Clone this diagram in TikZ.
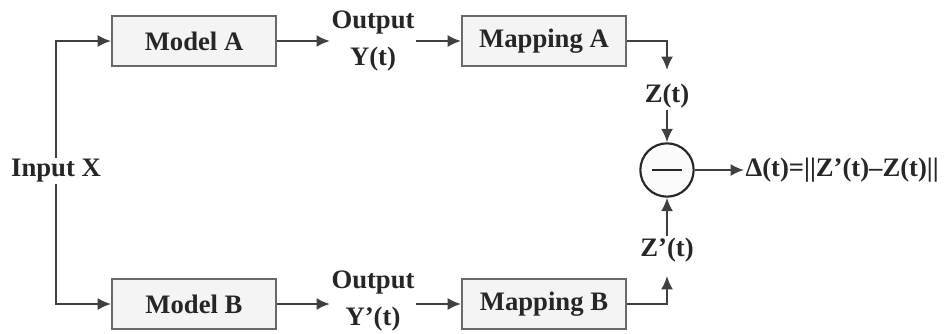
\documentclass[tikz,border=0pt]{standalone}
\usepackage{fontspec}
\setmainfont{Liberation Serif}
\usetikzlibrary{arrows.meta,positioning}
\definecolor{ink}{RGB}{38,38,38}
\definecolor{wire}{RGB}{64,64,64}
\definecolor{frame}{RGB}{105,105,105}
\definecolor{boxfill}{RGB}{244,244,244}
\tikzset{
  flow/.style={line width=1.6pt,wire,-{Latex[length=10pt,width=9pt]}},
  block/.style={draw=frame,line width=1.4pt,fill=boxfill,
    minimum width=123pt,minimum height=38pt,inner sep=0pt,
    font=\fontsize{20}{22}\selectfont\bfseries,text=ink},
  label/.style={font=\fontsize{20}{22}\selectfont\bfseries,text=ink,
    align=center,inner sep=1pt},
  subtract/.style={circle,draw=ink,line width=1.6pt,fill=boxfill!50,
    minimum size=40pt,inner sep=0pt}
}
\begin{document}
\begin{tikzpicture}[x=0.75pt,y=-0.75pt]
  \useasboundingbox (0,0) rectangle (949,333);
  % upper branch
  \node[block] (ma) at (194,41) {Model A};
  \node[label] (ya) at (373,41) {Output\\[6pt]Y(t)};
  \node[block] (pa) at (544,41) {Mapping A};
  % lower branch
  \node[block] (mb) at (194,304) {Model B};
  \node[label] (yb) at (373,301) {Output\\[6pt]Y'(t)};
  \node[block] (pb) at (544,304) {Mapping B};
  % input and comparison
  \node[label] (x) at (56,171) {Input X};
  \node[subtract] (d) at (667,170) {};
  \draw[line width=1.6pt,ink] ([xshift=-11pt]d.center) -- ([xshift=11pt]d.center);
  \node[label] (z) at (667,96) {Z(t)};
  \node[label] (zb) at (667,250) {Z'(t)};
  \node[label,anchor=west] (err) at (744,170) {Δ(t)=||Z'(t)–Z(t)||};
  \coordinate (za) at (667,70);
  \coordinate (zp) at (667,276);
  % connectors
  \draw[flow] (x.north) |- (ma.west);
  \draw[flow] (x.south) |- (mb.west);
  \draw[flow] (ma) -- (ya);
  \draw[flow] (ya) -- (pa);
  \draw[flow] (mb.east) -- (mb.east -| yb.west);
  \draw[flow] (mb.east -| yb.east) -- (pb.west);
  \draw[flow] (pa.east) -| (za);
  \draw[flow] (pb.east) -| (zp);
  \draw[flow] (z) -- (d);
  \draw[flow] (zb) -- (d);
  \draw[flow] (d) -- (err);
\end{tikzpicture}
\end{document}
